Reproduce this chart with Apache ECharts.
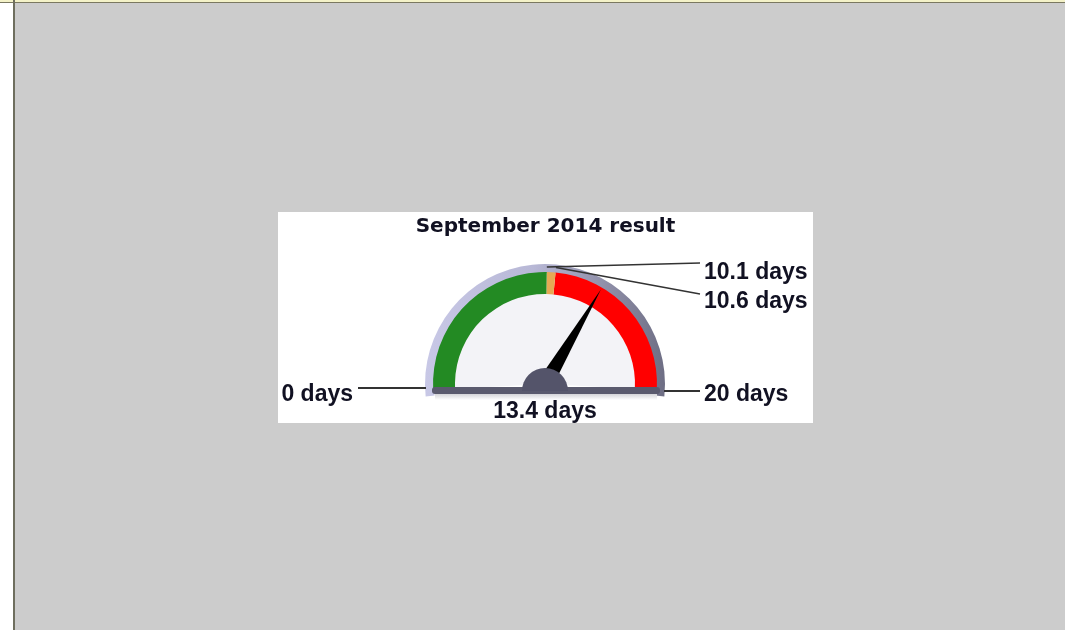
<!DOCTYPE html>
<html lang="en">
<head>
    <meta charset="UTF-8">
    <title>September 2014 result</title>
    <script src="https://cdn.jsdelivr.net/npm/echarts@6/dist/echarts.min.js"></script>
    <style>
        html, body { margin: 0; padding: 0; }
        body { width: 1065px; height: 630px; background: #cccccc; position: relative; overflow: hidden; }
        /* frame edges of the host page */
        .edge-left { position: absolute; left: 0; top: 0; width: 13px; height: 630px; background: #ffffff; }
        .edge-line { position: absolute; left: 13px; top: 0; width: 2px; height: 630px; background: #6e6e5e; }
        .edge-top { position: absolute; left: 0; top: 0; width: 1065px; height: 2px; background: #f4f2c8; border-bottom: 1px solid #7a7860; }
        #chart { position: absolute; left: 278px; top: 212px; width: 535px; height: 211px; background: #ffffff; }
    </style>
</head>
<body>
<div class="edge-left"></div>
<div class="edge-top"></div>
<div class="edge-line"></div>
<div id="chart"></div>
<script>
    // gauge data
    var titleText = 'September 2014 result';
    var unit = ' days';
    var scaleMin = 0;
    var scaleMax = 20;
    var bandEnds = [10.1, 10.6, 20];
    var bandColors = ['#238a23', '#e6a954', '#ff0000'];
    var resultValue = 13.4;

    // gauge geometry (px inside the white box)
    var cx = 267, cy = 172;
    var startAngle = 183, endAngle = -3;
    // stretch min/max so that scaleMin sits at 180deg and scaleMax at 0deg
    var perDeg = (scaleMax - scaleMin) / 180;
    var axisMin = scaleMin - (startAngle - 180) * perDeg;
    var axisMax = scaleMax + (0 - endAngle) * perDeg;

    function frac(v) { return (v - axisMin) / (axisMax - axisMin); }
    function angleOf(v) { return (startAngle - frac(v) * (startAngle - endAngle)) * Math.PI / 180; }
    function pointAt(v, r) { var a = angleOf(v); return [cx + r * Math.cos(a), cy - r * Math.sin(a)]; }

    var bandStops = bandEnds.map(function (v, i) {
        return [Math.min(1, frac(v)), bandColors[i]];
    });
    bandStops[bandStops.length - 1][0] = 1;

    var font = 'Liberation Sans, Arial, sans-serif';
    var labelStyle = { fill: '#111122', fontSize: 23, fontWeight: 'bold', fontFamily: font };

    function fmt(v) { return v + unit; }

    var hidden = { axisTick: { show: false }, splitLine: { show: false }, axisLabel: { show: false },
                   pointer: { show: false }, detail: { show: false }, title: { show: false } };

    var chart = echarts.init(document.getElementById('chart'));

    // leader lines + labels for each threshold value
    var p101 = pointAt(bandEnds[0], 117);
    var p106 = pointAt(bandEnds[1], 117);
    var pMin = pointAt(scaleMin, 119);
    var pMax = pointAt(scaleMax, 119);
    var bezelFill = new echarts.graphic.LinearGradient(0, 0, 1, 0, [
        { offset: 0, color: '#c8c8e6' }, { offset: 0.45, color: '#b8b8d6' }, { offset: 1, color: '#6e6e84' }
    ]);
    var graphics = [
        // base plate and hub
        { type: 'rect', z: 10, shape: { x: cx - 113, y: cy + 3, width: 228, height: 7, r: 3 },
          style: { fill: '#5a5a6e' } },
        { type: 'rect', z: 10, shape: { x: cx - 110, y: cy + 10, width: 222, height: 6 },
          style: { fill: new echarts.graphic.LinearGradient(0, 0, 0, 1, [{ offset: 0, color: '#d4d4d8' }, { offset: 1, color: '#ffffff' }]) } },
        { type: 'sector', z: 11, shape: { cx: cx, cy: cy + 7, r0: 0, r: 23, startAngle: Math.PI, endAngle: Math.PI * 2 },
          style: { fill: '#54546a' } },
        { type: 'line', z: 5, shape: { x1: p101[0], y1: p101[1], x2: 422, y2: 51 }, style: { stroke: '#333333', lineWidth: 1.6 } },
        { type: 'line', z: 5, shape: { x1: p106[0], y1: p106[1], x2: 422, y2: 82 }, style: { stroke: '#333333', lineWidth: 1.6 } },
        { type: 'line', z: 5, shape: { x1: 80, y1: cy + 4, x2: pMin[0], y2: cy + 4 }, style: { stroke: '#333333', lineWidth: 2 } },
        { type: 'line', z: 5, shape: { x1: pMax[0], y1: cy + 7, x2: 422, y2: cy + 7 }, style: { stroke: '#333333', lineWidth: 2 } },
        { type: 'text', z: 5, x: 426, y: 61, style: Object.assign({ text: fmt(bandEnds[0]), verticalAlign: 'middle' }, labelStyle) },
        { type: 'text', z: 5, x: 426, y: 90, style: Object.assign({ text: fmt(bandEnds[1]), verticalAlign: 'middle' }, labelStyle) },
        { type: 'text', z: 5, x: 426, y: 183, style: Object.assign({ text: fmt(scaleMax), verticalAlign: 'middle' }, labelStyle) },
        { type: 'text', z: 5, x: 75, y: 183, style: Object.assign({ text: fmt(scaleMin), verticalAlign: 'middle', align: 'right' }, labelStyle) },
        { type: 'text', z: 12, x: cx, y: 200, style: Object.assign({ text: fmt(resultValue), verticalAlign: 'middle', align: 'center' }, labelStyle) }
    ];

    var option = {
        animation: false,
        title: {
            text: titleText,
            left: 'center',
            top: 0,
            textStyle: { fontFamily: 'DejaVu Sans, sans-serif', fontSize: 20, fontWeight: 'bold', color: '#111122' }
        },
        graphic: graphics,
        series: [
            // bezel ring
            Object.assign({
                type: 'gauge', z: 2, center: [cx, cy], radius: 120,
                startAngle: 186, endAngle: -6, min: 0, max: 1,
                axisLine: { lineStyle: { width: 9, color: [[1, bezelFill]] } },
                data: []
            }, hidden),
            // face
            Object.assign({
                type: 'gauge', z: 2, center: [cx, cy], radius: 91,
                startAngle: startAngle, endAngle: endAngle, min: 0, max: 1,
                axisLine: { lineStyle: { width: 91, color: [[1, '#f3f3f7']] } },
                data: []
            }, hidden),
            // coloured ranges + needle
            {
                type: 'gauge', z: 3, center: [cx, cy], radius: 112,
                startAngle: startAngle, endAngle: endAngle,
                min: axisMin, max: axisMax,
                axisLine: { lineStyle: { width: 22, color: bandStops } },
                axisTick: { show: false },
                splitLine: { show: false },
                axisLabel: { show: false },
                pointer: { show: true, length: '98%', width: 8, itemStyle: { color: '#000000' } },
                anchor: { show: false },
                title: { show: false },
                detail: { show: false },
                data: [{ value: resultValue, name: titleText }]
            }
        ]
    };
    chart.setOption(option);
</script>
</body>
</html>
